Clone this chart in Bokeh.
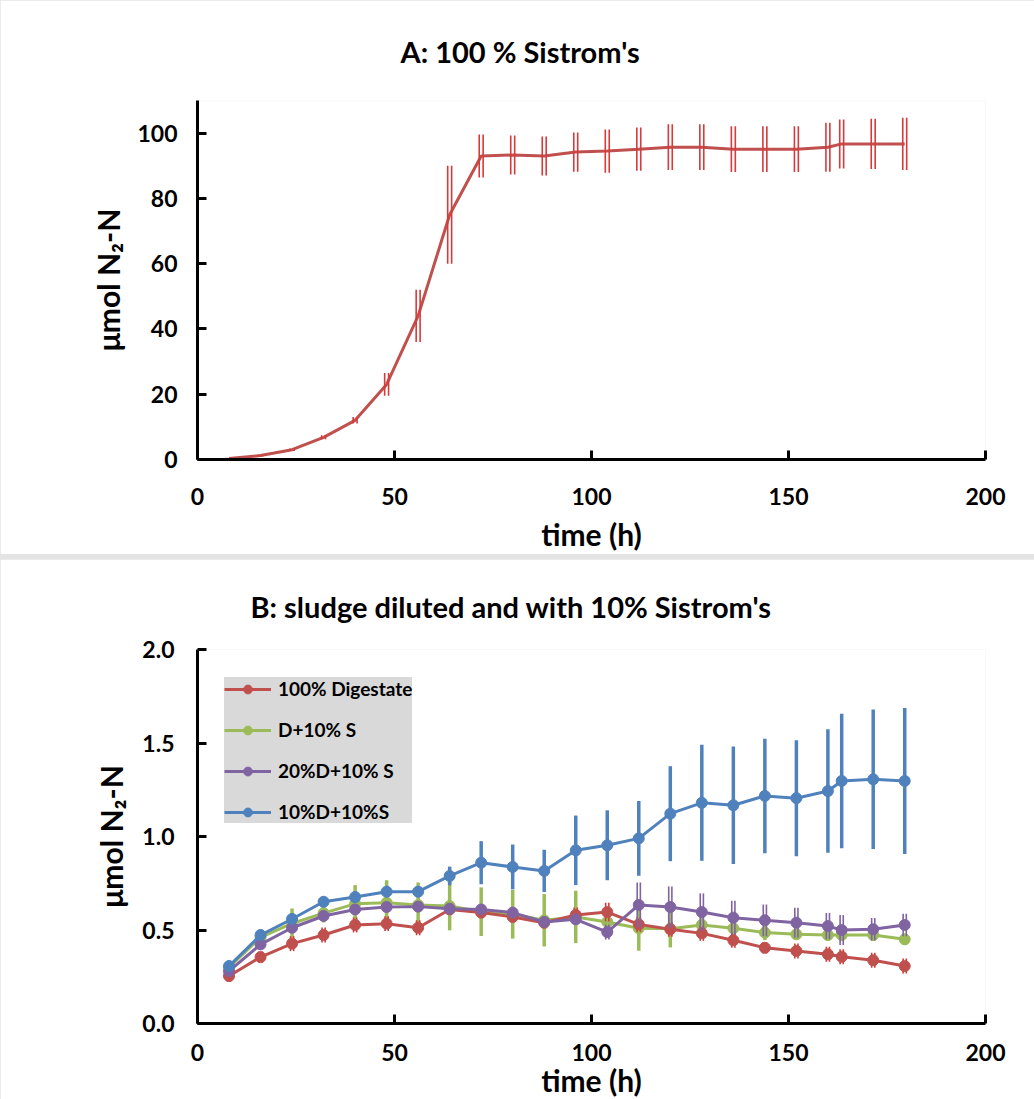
from bokeh.plotting import figure
from bokeh.models import Legend, LegendItem, FixedTicker, Range1d, Title, PrintfTickFormatter
from bokeh.layouts import column
from bokeh.embed import file_html
from bokeh.resources import INLINE

# ---------------- data ----------------
time_h = [8, 16, 24, 32, 40, 48, 56, 64, 72, 80, 88, 96, 104, 112, 120, 128,
          136, 144, 152, 160, 163.5, 171.5, 179.5]

# Panel A: 100 % Sistrom's
a_mean = [0.3, 1.2, 3.0, 6.8, 12.0, 23.0, 44.0, 75.0, 93.0, 93.3, 93.0, 94.2,
          94.5, 95.1, 95.7, 95.7, 95.1, 95.1, 95.1, 95.7, 96.7, 96.7, 96.7]
a_err = [0.2, 0.3, 0.4, 0.6, 1.0, 3.5, 8.0, 15.0, 6.6, 6.0, 6.0, 6.0,
         6.6, 6.6, 7.0, 7.0, 7.0, 7.0, 7.0, 7.5, 7.5, 7.7, 8.0]

# Panel B
series_names = ["100% Digestate", "D+10% S", "20%D+10% S", "10%D+10%S"]
digestate = [0.254, 0.355, 0.427, 0.473, 0.527, 0.534, 0.512, 0.61, 0.593, 0.57,
             0.539, 0.58, 0.596, 0.53, 0.504, 0.482, 0.445, 0.405, 0.388, 0.37,
             0.357, 0.338, 0.307]
digestate_err = [0.03, 0.03, 0.04, 0.04, 0.04, 0.04, 0.04, 0.03, 0.03, 0.03, 0.03,
                 0.04, 0.05, 0.04, 0.04, 0.04, 0.04, 0.03, 0.04, 0.04, 0.04, 0.04,
                 0.04]
d_10s = [0.30, 0.46, 0.535, 0.59, 0.64, 0.646, 0.634, 0.628, 0.598, 0.584, 0.552,
         0.57, 0.543, 0.509, 0.507, 0.527, 0.509, 0.486, 0.477, 0.473, 0.473,
         0.473, 0.45]
d_10s_err = [0.03, 0.03, 0.08, 0.05, 0.10, 0.12, 0.12, 0.13, 0.13, 0.13, 0.14,
             0.14, 0.08, 0.12, 0.10, 0.07, 0.04, 0.04, 0.03, 0.03, 0.03, 0.03,
             0.03]
d20_10s = [0.28, 0.423, 0.512, 0.575, 0.61, 0.623, 0.625, 0.614, 0.61, 0.593,
           0.543, 0.557, 0.489, 0.634, 0.623, 0.596, 0.566, 0.552, 0.539, 0.521,
           0.50, 0.504, 0.527]
d20_10s_err = [0.02, 0.02, 0.02, 0.02, 0.02, 0.02, 0.02, 0.02, 0.02, 0.02, 0.02,
               0.02, 0.04, 0.12, 0.11, 0.10, 0.09, 0.085, 0.08, 0.07, 0.08, 0.06,
               0.06]
d10_10s = [0.307, 0.473, 0.559, 0.651, 0.676, 0.705, 0.705, 0.789, 0.86, 0.837,
           0.816, 0.926, 0.953, 0.99, 1.122, 1.18, 1.167, 1.217, 1.205, 1.243,
           1.297, 1.306, 1.297]
d10_10s_err = [0.03, 0.03, 0.03, 0.02, 0.03, 0.03, 0.03, 0.05, 0.115, 0.12,
               0.113, 0.186, 0.187, 0.2, 0.254, 0.31, 0.314, 0.306, 0.31, 0.33,
               0.36, 0.373, 0.39]

x_ticks = [0, 50, 100, 150, 200]
a_ticks = [0, 20, 40, 60, 80, 100]
b_ticks = [0.0, 0.5, 1.0, 1.5, 2.0]

FONT = "Lato"
RED = "#C0504D"
RED_BAR = "#D63A3A"
GREEN = "#9BBB59"
PURPLE = "#8064A2"
BLUE = "#4F81BD"


def style(p, xlabel, ylabel, yticks, xstand, ystand):
    for ax in (p.xaxis[0], p.yaxis[0]):
        ax.axis_line_width = 3
        ax.axis_line_color = "black"
        ax.major_tick_line_width = 3
        ax.major_tick_in = 9
        ax.major_tick_out = 0
        ax.minor_tick_line_color = None
        ax.major_label_text_font = FONT
        ax.major_label_text_font_style = "bold"
        ax.major_label_text_font_size = "23px"
        ax.major_label_text_color = "black"
        ax.axis_label_text_font = FONT
        ax.axis_label_text_font_style = "bold"
        ax.axis_label_text_font_size = "30px"
        ax.axis_label_text_color = "black"
    p.xaxis[0].axis_label = xlabel
    p.yaxis[0].axis_label = ylabel
    p.xaxis[0].ticker = FixedTicker(ticks=x_ticks)
    p.yaxis[0].ticker = FixedTicker(ticks=yticks)
    p.xaxis[0].major_label_standoff = xstand[0]
    p.xaxis[0].axis_label_standoff = xstand[1]
    p.yaxis[0].major_label_standoff = ystand[0]
    p.yaxis[0].axis_label_standoff = ystand[1]
    p.xgrid.grid_line_color = None
    p.ygrid.grid_line_color = None
    p.outline_line_color = None


def double_bars(p, t, m, e, dx, color, w):
    lo = [a - b for a, b in zip(m, e)]
    hi = [a + b for a, b in zip(m, e)]
    for s in (-dx, dx):
        xs = [v + s for v in t]
        p.segment(x0=xs, y0=lo, x1=xs, y1=hi, line_color=color, line_width=w)


def single_bars(p, t, m, e, color, w):
    lo = [a - b for a, b in zip(m, e)]
    hi = [a + b for a, b in zip(m, e)]
    p.segment(x0=t, y0=lo, x1=t, y1=hi, line_color=color, line_width=w)


def make_title(text, offset, standoff):
    return Title(text=text, align="left", offset=offset, standoff=standoff,
                 vertical_align="middle",
                 text_font=FONT, text_font_style="bold", text_font_size="29px",
                 text_color="black")


# ---------------- Panel A ----------------
pA = figure(width=1034, height=553, output_backend="svg", toolbar_location=None,
            x_range=Range1d(0, 200), y_range=Range1d(0, 110),
            min_border_left=197, min_border_right=49, min_border_top=100,
            min_border_bottom=94, frame_width=788, frame_height=359,
            title=make_title("A:  100 % Sistrom's", 203, 62))
style(pA, "time (h)", "μmol N₂-N", a_ticks, (28, 8), (20, 8))
pA.line(time_h, a_mean, line_color=RED, line_width=3)
double_bars(pA, time_h, a_mean, a_err, 0.5, RED_BAR, 1.6)

# ---------------- Panel B ----------------
pB = figure(width=1034, height=541, output_backend="svg", toolbar_location=None,
            x_range=Range1d(0, 200), y_range=Range1d(0, 2.0),
            min_border_left=192, min_border_right=54, min_border_top=90,
            min_border_bottom=77, frame_width=788, frame_height=374,
            title=make_title("B: sludge diluted and with 10% Sistrom's", 53, 50))
style(pB, "time (h)", "μmol N₂-N", b_ticks, (20, -2), (23, 10))
pB.yaxis[0].formatter = PrintfTickFormatter(format="%.1f")

items = {}
# green
single_bars(pB, time_h, d_10s, d_10s_err, GREEN, 3.5)
gl = pB.line(time_h, d_10s, line_color=GREEN, line_width=3)
gs = pB.scatter(time_h, d_10s, marker="circle", size=11, color=GREEN)
items["D+10% S"] = [gl, gs]
# red
double_bars(pB, time_h, digestate, digestate_err, 0.4, RED_BAR, 1.6)
rl = pB.line(time_h, digestate, line_color=RED, line_width=3)
rs = pB.scatter(time_h, digestate, marker="circle", size=11, color=RED)
items["100% Digestate"] = [rl, rs]
# purple
double_bars(pB, time_h, d20_10s, d20_10s_err, 0.4, PURPLE, 1.6)
pl = pB.line(time_h, d20_10s, line_color=PURPLE, line_width=3)
ps = pB.scatter(time_h, d20_10s, marker="circle", size=11, color=PURPLE)
items["20%D+10% S"] = [pl, ps]
# blue
single_bars(pB, time_h, d10_10s, d10_10s_err, BLUE, 3.5)
bl = pB.line(time_h, d10_10s, line_color=BLUE, line_width=3)
bs = pB.scatter(time_h, d10_10s, marker="circle", size=11, color=BLUE)
items["10%D+10%S"] = [bl, bs]

legend = Legend(items=[LegendItem(label=n, renderers=items[n]) for n in series_names],
                location=(27, 200), background_fill_color="#D9D9D9",
                background_fill_alpha=1.0, border_line_color=None,
                label_text_font=FONT, label_text_font_style="bold",
                label_text_font_size="19px", label_text_color="black",
                glyph_width=47, glyph_height=22, label_height=22,
                label_standoff=7, spacing=18, padding=10, margin=0)
pB.add_layout(legend)

layout = column(pA, pB, spacing=5, styles={"background-color": "#E4E4E4"})
open("out.html", "w").write(file_html(layout, INLINE))
